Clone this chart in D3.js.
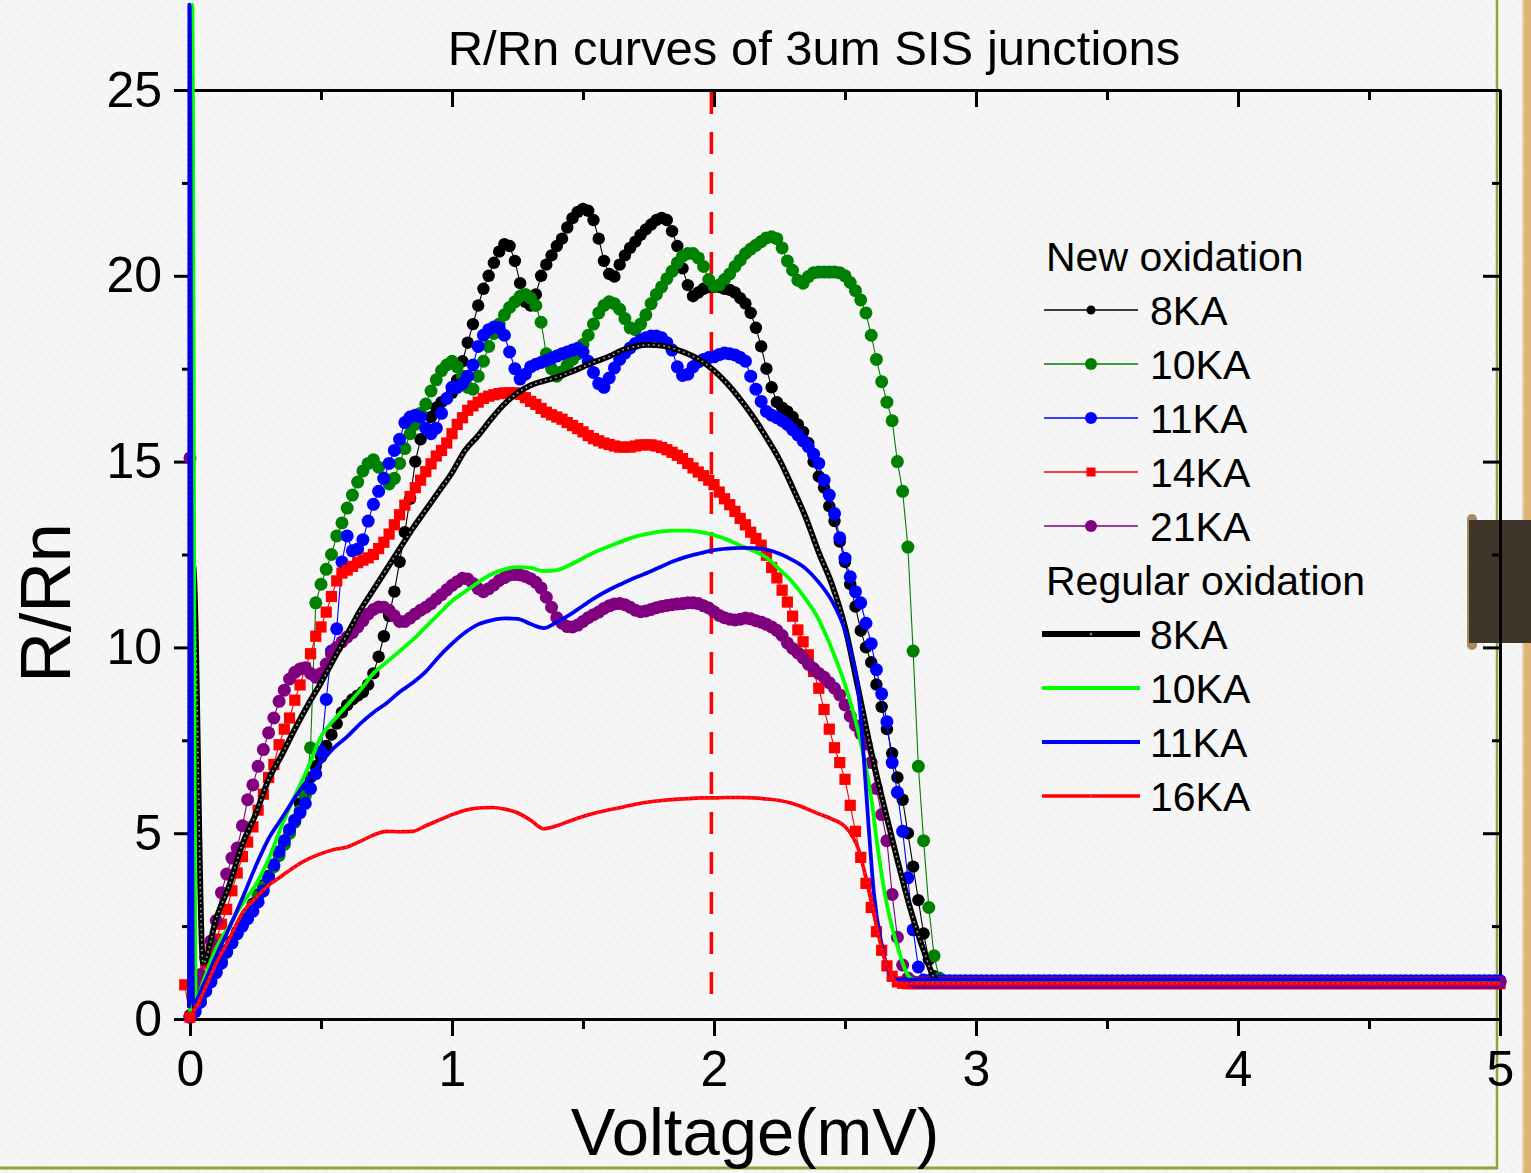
<!DOCTYPE html>
<html>
<head>
<meta charset="utf-8">
<script src="https://cdn.jsdelivr.net/npm/d3@7"></script>
<style>
  body { margin: 0; background: #f5f5f5; }
  svg { display: block; }
  text { font-family: "Liberation Sans", Arial, sans-serif; fill: #000; }
</style>
</head>
<body>
<svg id="chart" width="1531" height="1173"></svg>
<script>
// ---------------- data ----------------
// New-oxidation junctions: R/Rn sampled every 0.02 mV (rows of ten samples, row start voltage in comment)
const stepV = 0.02;

const new8KA = [
  /*0.00*/ 0.1, 0.35, 0.6, 0.85, 1.1, 1.35, 1.6, 1.85, 2.1, 2.35,
  /*0.20*/ 2.6, 2.85, 3.1, 3.35, 3.6, 3.85, 4.1, 4.4, 4.7, 5.0,
  /*0.40*/ 5.35, 5.8, 6.2, 6.5, 6.8, 7.05, 7.35, 7.65, 7.95, 8.25,
  /*0.60*/ 8.45, 8.6, 8.7, 8.8, 9.0, 9.3, 9.75, 10.3, 10.85, 11.5,
  /*0.80*/ 12.3, 13.1, 14.0, 15.0, 15.6, 15.9, 16.2, 16.45, 16.6, 16.7,
  /*1.00*/ 16.85, 17.2, 17.7, 18.2, 18.7, 19.2, 19.65, 20.0, 20.35, 20.65,
  /*1.20*/ 20.85, 20.8, 20.4, 19.8, 19.3, 19.2, 19.5, 20.0, 20.3, 20.55,
  /*1.40*/ 20.8, 21.0, 21.3, 21.55, 21.72, 21.8, 21.75, 21.5, 21.0, 20.4,
  /*1.60*/ 20.05, 19.98, 20.3, 20.55, 20.75, 20.92, 21.1, 21.25, 21.38, 21.5,
  /*1.80*/ 21.56, 21.5, 21.2, 20.8, 20.2, 19.75, 19.45, 19.55, 19.65, 19.7,
  /*2.00*/ 19.7, 19.7, 19.65, 19.62, 19.55, 19.4, 19.25, 19.0, 18.6, 18.1,
  /*2.20*/ 17.5, 17.0, 16.6, 16.45, 16.35, 16.2, 16.0, 15.8, 15.5, 15.0,
  /*2.40*/ 14.6, 14.3, 13.8, 13.4, 12.85, 12.3, 11.7, 11.1, 10.45, 10.0,
  /*2.60*/ 9.6, 9.0, 8.4, 7.8, 7.15, 6.5, 5.9, 5.0, 4.1, 3.2,
  /*2.80*/ 2.3, 1.6, 1.15, 1.02, 1.0, 1.0, 1.0, 1.0, 1.0, 1.0,
  /*3.00*/ 1.0, 1.0, 1.0, 1.0, 1.0, 1.0, 1.0, 1.0, 1.0, 1.0,
  /*3.20*/ 1.0, 1.0, 1.0, 1.0, 1.0, 1.0, 1.0, 1.0, 1.0, 1.0,
  /*3.40*/ 1.0, 1.0, 1.0, 1.0, 1.0, 1.0, 1.0, 1.0, 1.0, 1.0,
  /*3.60*/ 1.0, 1.0, 1.0, 1.0, 1.0, 1.0, 1.0, 1.0, 1.0, 1.0,
  /*3.80*/ 1.0, 1.0, 1.0, 1.0, 1.0, 1.0, 1.0, 1.0, 1.0, 1.0,
  /*4.00*/ 1.0, 1.0, 1.0, 1.0, 1.0, 1.0, 1.0, 1.0, 1.0, 1.0,
  /*4.20*/ 1.0, 1.0, 1.0, 1.0, 1.0, 1.0, 1.0, 1.0, 1.0, 1.0,
  /*4.40*/ 1.0, 1.0, 1.0, 1.0, 1.0, 1.0, 1.0, 1.0, 1.0, 1.0,
  /*4.60*/ 1.0, 1.0, 1.0, 1.0, 1.0, 1.0, 1.0, 1.0, 1.0, 1.0,
  /*4.80*/ 1.0, 1.0, 1.0, 1.0, 1.0, 1.0, 1.0, 1.0, 1.0, 1.0,
  /*5.00*/ 1.0
];

const new10KA = [
  /*0.00*/ 0.05, 0.3, 0.55, 0.8, 1.05, 1.3, 1.55, 1.8, 2.05, 2.3,
  /*0.20*/ 2.55, 2.8, 3.05, 3.3, 3.55, 3.8, 4.1, 4.4, 4.7, 5.0,
  /*0.40*/ 5.3, 5.6, 6.0, 7.3, 11.2, 11.7, 12.1, 12.5, 13.0, 13.35,
  /*0.60*/ 13.75, 14.1, 14.45, 14.75, 14.95, 15.05, 14.85, 14.55, 14.4, 14.55,
  /*0.80*/ 14.95, 15.35, 15.75, 16.0, 16.3, 16.55, 16.9, 17.2, 17.45, 17.6,
  /*1.00*/ 17.7, 17.55, 17.3, 17.0, 16.95, 17.3, 17.7, 18.1, 18.45, 18.7,
  /*1.20*/ 18.95, 19.15, 19.3, 19.45, 19.5, 19.4, 19.2, 18.75, 17.9, 17.5,
  /*1.40*/ 17.3, 17.42, 17.6, 17.75, 17.9, 18.15, 18.4, 18.7, 19.0, 19.2,
  /*1.60*/ 19.3, 19.25, 19.1, 18.85, 18.6, 18.55, 18.7, 18.95, 19.25, 19.5,
  /*1.80*/ 19.7, 19.92, 20.12, 20.35, 20.53, 20.6, 20.6, 20.48, 20.25, 19.9,
  /*2.00*/ 19.72, 19.75, 19.9, 20.05, 20.25, 20.42, 20.6, 20.72, 20.82, 20.92,
  /*2.20*/ 21.02, 21.05, 21.0, 20.75, 20.4, 20.15, 19.88, 19.8, 19.98, 20.08,
  /*2.40*/ 20.1, 20.1, 20.1, 20.1, 20.08, 20.0, 19.82, 19.6, 19.35, 19.0,
  /*2.60*/ 18.4, 17.75, 17.15, 16.6, 16.1, 15.0, 14.2, 12.7, 9.9, 6.8,
  /*2.80*/ 4.8, 3.0, 1.7, 1.1, 1.0, 1.0, 1.0, 1.0, 1.0, 1.0,
  /*3.00*/ 1.0, 1.0, 1.0, 1.0, 1.0, 1.0, 1.0, 1.0, 1.0, 1.0,
  /*3.20*/ 1.0, 1.0, 1.0, 1.0, 1.0, 1.0, 1.0, 1.0, 1.0, 1.0,
  /*3.40*/ 1.0, 1.0, 1.0, 1.0, 1.0, 1.0, 1.0, 1.0, 1.0, 1.0,
  /*3.60*/ 1.0, 1.0, 1.0, 1.0, 1.0, 1.0, 1.0, 1.0, 1.0, 1.0,
  /*3.80*/ 1.0, 1.0, 1.0, 1.0, 1.0, 1.0, 1.0, 1.0, 1.0, 1.0,
  /*4.00*/ 1.0, 1.0, 1.0, 1.0, 1.0, 1.0, 1.0, 1.0, 1.0, 1.0,
  /*4.20*/ 1.0, 1.0, 1.0, 1.0, 1.0, 1.0, 1.0, 1.0, 1.0, 1.0,
  /*4.40*/ 1.0, 1.0, 1.0, 1.0, 1.0, 1.0, 1.0, 1.0, 1.0, 1.0,
  /*4.60*/ 1.0, 1.0, 1.0, 1.0, 1.0, 1.0, 1.0, 1.0, 1.0, 1.0,
  /*4.80*/ 1.0, 1.0, 1.0, 1.0, 1.0, 1.0, 1.0, 1.0, 1.0, 1.0,
  /*5.00*/ 1.0
];

const new11KA = [
  /*0.00*/ 0.05, 0.2, 0.45, 0.75, 1.0, 1.25, 1.5, 1.8, 2.05, 2.3,
  /*0.20*/ 2.5, 2.7, 2.9, 3.15, 3.45, 3.8, 4.15, 4.5, 4.8, 5.1,
  /*0.40*/ 5.35, 5.55, 5.8, 6.2, 6.6, 7.2, 8.6, 9.9, 10.5, 12.3,
  /*0.60*/ 13.0, 12.6, 12.65, 12.9, 13.4, 13.85, 14.2, 14.55, 14.95, 15.3,
  /*0.80*/ 15.6, 16.05, 16.2, 16.25, 16.2, 15.9, 15.75, 15.9, 16.3, 16.7,
  /*1.00*/ 17.0, 17.0, 17.1, 17.3, 17.6, 18.1, 18.4, 18.55, 18.62, 18.6,
  /*1.20*/ 18.4, 17.95, 17.5, 17.22, 17.35, 17.55, 17.62, 17.67, 17.72, 17.78,
  /*1.40*/ 17.84, 17.9, 17.95, 18.0, 18.05, 17.95, 17.7, 17.4, 17.1, 17.0,
  /*1.60*/ 17.25, 17.52, 17.75, 17.92, 18.06, 18.18, 18.27, 18.33, 18.38, 18.38,
  /*1.80*/ 18.33, 18.2, 18.0, 17.55, 17.32, 17.35, 17.55, 17.68, 17.75, 17.8,
  /*2.00*/ 17.82, 17.88, 17.92, 17.9, 17.87, 17.8, 17.7, 17.3, 16.95, 16.62,
  /*2.20*/ 16.35, 16.25, 16.18, 16.1, 16.0, 15.86, 15.72, 15.56, 15.4, 15.2,
  /*2.40*/ 14.95, 14.5, 14.1, 13.6, 12.95, 12.4, 11.9, 11.5, 11.2, 10.65,
  /*2.60*/ 10.1, 9.4, 8.75, 8.0, 6.9, 6.1, 5.05, 3.8, 2.4, 1.4,
  /*2.80*/ 1.05, 1.03, 1.03, 1.03, 1.03, 1.03, 1.03, 1.03, 1.03, 1.03,
  /*3.00*/ 1.03, 1.03, 1.03, 1.03, 1.03, 1.03, 1.03, 1.03, 1.03, 1.03,
  /*3.20*/ 1.03, 1.03, 1.03, 1.03, 1.03, 1.03, 1.03, 1.03, 1.03, 1.03,
  /*3.40*/ 1.03, 1.03, 1.03, 1.03, 1.03, 1.03, 1.03, 1.03, 1.03, 1.03,
  /*3.60*/ 1.03, 1.03, 1.03, 1.03, 1.03, 1.03, 1.03, 1.03, 1.03, 1.03,
  /*3.80*/ 1.03, 1.03, 1.03, 1.03, 1.03, 1.03, 1.03, 1.03, 1.03, 1.03,
  /*4.00*/ 1.03, 1.03, 1.03, 1.03, 1.03, 1.03, 1.03, 1.03, 1.03, 1.03,
  /*4.20*/ 1.03, 1.03, 1.03, 1.03, 1.03, 1.03, 1.03, 1.03, 1.03, 1.03,
  /*4.40*/ 1.03, 1.03, 1.03, 1.03, 1.03, 1.03, 1.03, 1.03, 1.03, 1.03,
  /*4.60*/ 1.03, 1.03, 1.03, 1.03, 1.03, 1.03, 1.03, 1.03, 1.03, 1.03,
  /*4.80*/ 1.03, 1.03, 1.03, 1.03, 1.03, 1.03, 1.03, 1.03, 1.03, 1.03,
  /*5.00*/ 1.03
];

// 14KA sweep starts one step below zero
const new14KAStartV = -0.02;
const new14KA = [
  /*-0.02*/ 0.92,
  /*0.00*/ 0.05, 0.5, 1.1, 1.5, 1.85, 2.15, 2.55, 2.95, 3.45, 3.93,
  /*0.20*/ 4.37, 4.76, 5.17, 5.62, 6.05, 6.5, 6.85, 7.38, 7.8, 8.1,
  /*0.40*/ 8.58, 8.99, 9.45, 9.83, 10.3, 10.55, 10.95, 11.37, 11.79, 12.0,
  /*0.60*/ 12.08, 12.18, 12.28, 12.35, 12.41, 12.5, 12.66, 12.83, 13.05, 13.3,
  /*0.80*/ 13.57, 13.83, 14.06, 14.3, 14.5, 14.73, 14.94, 15.15, 15.3, 15.5,
  /*1.00*/ 15.75, 16.0, 16.18, 16.38, 16.5, 16.6, 16.7, 16.76, 16.8, 16.83,
  /*1.20*/ 16.85, 16.85, 16.85, 16.81, 16.72, 16.62, 16.54, 16.43, 16.33, 16.26,
  /*1.40*/ 16.2, 16.14, 16.05, 15.97, 15.89, 15.8, 15.7, 15.62, 15.56, 15.5,
  /*1.60*/ 15.46, 15.42, 15.39, 15.39, 15.39, 15.42, 15.45, 15.45, 15.45, 15.42,
  /*1.80*/ 15.38, 15.32, 15.25, 15.17, 15.08, 14.95, 14.83, 14.72, 14.62, 14.5,
  /*2.00*/ 14.38, 14.18, 14.0, 13.84, 13.66, 13.47, 13.3, 13.1, 12.93, 12.75,
  /*2.20*/ 12.48, 12.15, 11.87, 11.54, 11.22, 10.84, 10.47, 10.15, 9.8, 9.35,
  /*2.40*/ 8.9, 8.33, 7.8, 7.3, 6.9, 6.45, 5.75, 5.05, 4.35, 3.65,
  /*2.60*/ 3.0, 2.35, 1.85, 1.43, 1.15, 1.0, 0.96, 0.95, 0.95, 0.95,
  /*2.80*/ 0.95, 0.95, 0.95, 0.95, 0.95, 0.95, 0.95, 0.95, 0.95, 0.95,
  /*3.00*/ 0.95, 0.95, 0.95, 0.95, 0.95, 0.95, 0.95, 0.95, 0.95, 0.95,
  /*3.20*/ 0.95, 0.95, 0.95, 0.95, 0.95, 0.95, 0.95, 0.95, 0.95, 0.95,
  /*3.40*/ 0.95, 0.95, 0.95, 0.95, 0.95, 0.95, 0.95, 0.95, 0.95, 0.95,
  /*3.60*/ 0.95, 0.95, 0.95, 0.95, 0.95, 0.95, 0.95, 0.95, 0.95, 0.95,
  /*3.80*/ 0.95, 0.95, 0.95, 0.95, 0.95, 0.95, 0.95, 0.95, 0.95, 0.95,
  /*4.00*/ 0.95, 0.95, 0.95, 0.95, 0.95, 0.95, 0.95, 0.95, 0.95, 0.95,
  /*4.20*/ 0.95, 0.95, 0.95, 0.95, 0.95, 0.95, 0.95, 0.95, 0.95, 0.95,
  /*4.40*/ 0.95, 0.95, 0.95, 0.95, 0.95, 0.95, 0.95, 0.95, 0.95, 0.95,
  /*4.60*/ 0.95, 0.95, 0.95, 0.95, 0.95, 0.95, 0.95, 0.95, 0.95, 0.95,
  /*4.80*/ 0.95, 0.95, 0.95, 0.95, 0.95, 0.95, 0.95, 0.95, 0.95, 0.95,
  /*5.00*/ 0.95
];

const new21KA = [
  /*0.00*/ 15.1, 0.9, 1.2, 1.65, 2.1, 2.65, 3.4, 3.9, 4.33, 4.6,
  /*0.20*/ 5.2, 5.9, 6.3, 6.8, 7.25, 7.7, 8.1, 8.55, 8.85, 9.15,
  /*0.40*/ 9.33, 9.42, 9.45, 9.3, 9.2, 9.3, 9.55, 9.82, 10.0, 10.15,
  /*0.60*/ 10.28, 10.4, 10.55, 10.72, 10.9, 11.02, 11.09, 11.08, 11.0, 10.85,
  /*0.80*/ 10.7, 10.7, 10.79, 10.9, 11.0, 11.08, 11.18, 11.3, 11.42, 11.55,
  /*1.00*/ 11.67, 11.77, 11.86, 11.84, 11.72, 11.58, 11.5, 11.58, 11.68, 11.8,
  /*1.20*/ 11.88, 11.95, 11.96, 11.95, 11.91, 11.85, 11.75, 11.6, 11.35, 11.08,
  /*1.40*/ 10.8, 10.65, 10.56, 10.55, 10.6, 10.7, 10.8, 10.88, 10.95, 11.05,
  /*1.60*/ 11.12, 11.17, 11.18, 11.15, 11.08, 11.0, 10.96, 10.98, 11.02, 11.07,
  /*1.80*/ 11.1, 11.13, 11.15, 11.17, 11.18, 11.2, 11.2, 11.18, 11.12, 11.06,
  /*2.00*/ 10.96, 10.86, 10.8, 10.76, 10.74, 10.76, 10.79, 10.77, 10.72, 10.68,
  /*2.20*/ 10.62, 10.55, 10.46, 10.32, 10.12, 9.97, 9.85, 9.72, 9.55, 9.43,
  /*2.40*/ 9.3, 9.2, 9.05, 8.9, 8.72, 8.45, 8.15, 7.9, 7.68, 7.4,
  /*2.60*/ 6.9, 6.2, 5.5, 4.8, 3.35, 2.2, 1.45, 1.1, 1.0, 0.98,
  /*2.80*/ 0.98, 0.98, 0.98, 0.98, 0.98, 0.98, 0.98, 0.98, 0.98, 0.98,
  /*3.00*/ 0.98, 0.98, 0.98, 0.98, 0.98, 0.98, 0.98, 0.98, 0.98, 0.98,
  /*3.20*/ 0.98, 0.98, 0.98, 0.98, 0.98, 0.98, 0.98, 0.98, 0.98, 0.98,
  /*3.40*/ 0.98, 0.98, 0.98, 0.98, 0.98, 0.98, 0.98, 0.98, 0.98, 0.98,
  /*3.60*/ 0.98, 0.98, 0.98, 0.98, 0.98, 0.98, 0.98, 0.98, 0.98, 0.98,
  /*3.80*/ 0.98, 0.98, 0.98, 0.98, 0.98, 0.98, 0.98, 0.98, 0.98, 0.98,
  /*4.00*/ 0.98, 0.98, 0.98, 0.98, 0.98, 0.98, 0.98, 0.98, 0.98, 0.98,
  /*4.20*/ 0.98, 0.98, 0.98, 0.98, 0.98, 0.98, 0.98, 0.98, 0.98, 0.98,
  /*4.40*/ 0.98, 0.98, 0.98, 0.98, 0.98, 0.98, 0.98, 0.98, 0.98, 0.98,
  /*4.60*/ 0.98, 0.98, 0.98, 0.98, 0.98, 0.98, 0.98, 0.98, 0.98, 0.98,
  /*4.80*/ 0.98, 0.98, 0.98, 0.98, 0.98, 0.98, 0.98, 0.98, 0.98, 0.98,
  /*5.00*/ 0.98
];

// Regular-oxidation junctions: [voltage (mV), R/Rn]
const reg8KA = [
  [0, 0.3], [0.012, 12.2], [0.05, 1.5], [0.1, 2.7], [0.15, 3.6], [0.2, 4.7], [0.25, 5.5],
  [0.3, 6.45], [0.35, 7.1], [0.4, 7.8], [0.45, 8.45], [0.5, 9.05], [0.55, 9.7], [0.6, 10.35],
  [0.65, 11.0], [0.7, 11.55], [0.75, 12.1], [0.8, 12.65], [0.85, 13.2], [0.9, 13.7], [0.95, 14.2],
  [1.0, 14.7], [1.05, 15.3], [1.1, 15.7], [1.15, 16.15], [1.2, 16.55], [1.25, 16.85], [1.3, 17.05],
  [1.35, 17.17], [1.4, 17.27], [1.45, 17.4], [1.5, 17.55], [1.55, 17.7], [1.6, 17.83], [1.65, 18.0],
  [1.7, 18.1], [1.75, 18.14], [1.8, 18.12], [1.85, 18.03], [1.9, 17.9], [1.95, 17.72], [2.0, 17.45],
  [2.05, 17.1], [2.1, 16.68], [2.15, 16.2], [2.2, 15.65], [2.25, 15.05], [2.3, 14.3], [2.35, 13.5],
  [2.4, 12.55], [2.45, 11.7], [2.5, 10.55], [2.55, 8.9], [2.6, 7.2], [2.65, 5.7], [2.7, 4.28],
  [2.75, 2.95], [2.8, 1.85], [2.85, 1.05], [2.9, 1.0], [3.5, 1.0], [4.0, 1.0], [4.5, 1.0], [5.0, 1.0]
];

const reg10KA = [
  [0, 0.2], [0.0065, 27.3], [0.0085, 27.3], [0.022, 0.5], [0.05, 1.0], [0.1, 1.9], [0.15, 2.5], [0.2, 3.1],
  [0.25, 3.6], [0.3, 4.3], [0.35, 5.2], [0.4, 6.0], [0.45, 6.75], [0.5, 7.6], [0.55, 8.05],
  [0.6, 8.45], [0.65, 8.85], [0.7, 9.3], [0.75, 9.6], [0.8, 9.9], [0.85, 10.2], [0.9, 10.55],
  [0.95, 10.9], [1.0, 11.25], [1.05, 11.5], [1.1, 11.75], [1.15, 11.97], [1.2, 12.1], [1.25, 12.16],
  [1.3, 12.14], [1.35, 12.05], [1.4, 12.08], [1.45, 12.22], [1.5, 12.4], [1.55, 12.58], [1.6, 12.72],
  [1.65, 12.86], [1.7, 12.98], [1.75, 13.06], [1.8, 13.12], [1.85, 13.14], [1.9, 13.14], [1.95, 13.1],
  [2.0, 13.02], [2.05, 12.9], [2.1, 12.74], [2.15, 12.6], [2.2, 12.42], [2.25, 12.1], [2.3, 11.75],
  [2.35, 11.3], [2.4, 10.75], [2.45, 9.95], [2.5, 9.0], [2.55, 7.75], [2.6, 5.95], [2.625, 4.6],
  [2.65, 3.45], [2.7, 1.95], [2.75, 1.1], [2.8, 1.0], [3.5, 1.0], [4.0, 1.0], [4.5, 1.0], [5.0, 1.0]
];

const reg11KA = [
  [-0.003, 0.3], [-0.0025, 27.3], [-0.0015, 27.3], [0.012, 0.4], [0.05, 0.9], [0.1, 1.7], [0.15, 2.45], [0.2, 3.25],
  [0.25, 4.1], [0.3, 4.85], [0.35, 5.4], [0.4, 5.95], [0.45, 6.45], [0.5, 6.9], [0.55, 7.3],
  [0.6, 7.6], [0.65, 7.95], [0.7, 8.25], [0.75, 8.5], [0.8, 8.8], [0.85, 9.05], [0.9, 9.35],
  [0.95, 9.75], [1.0, 10.1], [1.05, 10.4], [1.1, 10.62], [1.15, 10.73], [1.2, 10.78], [1.25, 10.77],
  [1.3, 10.63], [1.35, 10.52], [1.4, 10.68], [1.45, 10.88], [1.5, 11.12], [1.55, 11.35], [1.6, 11.55],
  [1.65, 11.72], [1.7, 11.88], [1.75, 12.02], [1.8, 12.18], [1.85, 12.33], [1.9, 12.45], [1.95, 12.54],
  [2.0, 12.62], [2.05, 12.66], [2.1, 12.68], [2.15, 12.67], [2.2, 12.63], [2.25, 12.52], [2.3, 12.35],
  [2.35, 12.12], [2.4, 11.75], [2.45, 11.25], [2.5, 10.45], [2.525, 9.8], [2.55, 8.9], [2.57, 7.2],
  [2.59, 5.2], [2.61, 3.4], [2.64, 2.0], [2.67, 1.25], [2.7, 1.06], [3.5, 1.06], [4.0, 1.06], [4.5, 1.06], [5.0, 1.06]
];

const reg16KA = [
  [0, 0], [0.05, 0.7], [0.1, 1.5], [0.15, 2.15], [0.2, 2.85], [0.25, 3.25], [0.3, 3.6],
  [0.35, 3.85], [0.4, 4.1], [0.45, 4.3], [0.5, 4.45], [0.55, 4.56], [0.6, 4.63], [0.65, 4.78],
  [0.7, 4.95], [0.75, 5.05], [0.8, 5.04], [0.85, 5.05], [0.9, 5.2], [0.95, 5.35], [1.0, 5.5],
  [1.05, 5.62], [1.1, 5.68], [1.15, 5.69], [1.2, 5.65], [1.25, 5.55], [1.3, 5.35], [1.35, 5.12],
  [1.4, 5.2], [1.45, 5.33], [1.5, 5.45], [1.55, 5.55], [1.6, 5.63], [1.65, 5.7], [1.7, 5.78],
  [1.75, 5.84], [1.8, 5.88], [1.85, 5.91], [1.9, 5.93], [1.95, 5.95], [2.0, 5.95], [2.05, 5.96],
  [2.1, 5.96], [2.15, 5.95], [2.2, 5.92], [2.25, 5.88], [2.3, 5.8], [2.35, 5.67], [2.4, 5.52],
  [2.45, 5.38], [2.5, 5.18], [2.53, 4.9], [2.55, 4.6], [2.575, 3.95], [2.6, 3.25], [2.625, 2.35],
  [2.65, 1.65], [2.68, 1.15], [2.7, 0.97], [2.75, 0.96], [3.5, 0.96], [4.0, 0.96], [4.5, 0.96], [5.0, 0.96]
];

// Gap-voltage marker and axis ticks
const gapMarkV = 1.99;
const xTickValues = [0, 1, 2, 3, 4, 5];
const xMinorValues = [0.5, 1.5, 2.5, 3.5, 4.5];
const yTickValues = [0, 5, 10, 15, 20, 25];
const yMinorValues = [2.5, 7.5, 12.5, 17.5, 22.5];

const newNames = ["8KA", "10KA", "11KA", "14KA", "21KA"];
const regNames = ["8KA", "10KA", "11KA", "16KA"];

// ---------------- layout & styling ----------------
const W = 1531, H = 1173;
const margin = { left: 190, right: 31, top: 90, bottom: 154 };

const newSeries = [
  { name: newNames[0], values: new8KA, startV: 0, color: "#000000", shape: "circle", r: 6.2, lr: 4.5 },
  { name: newNames[1], values: new10KA, startV: 0, color: "#008000", shape: "circle", r: 6.5, lr: 6 },
  { name: newNames[2], values: new11KA, startV: 0, color: "#0000ff", shape: "circle", r: 6.5, lr: 6 },
  { name: newNames[3], values: new14KA, startV: new14KAStartV, color: "#ff0000", shape: "square", r: 5.6, lr: 4.5 },
  { name: newNames[4], values: new21KA, startV: 0, color: "#800080", shape: "circle", r: 6.5, lr: 6 }
];
const regSeries = [
  { name: regNames[0], points: reg8KA, color: "#000000", width: 5.8, dot: "#9a9a9a", dotW: 2 },
  { name: regNames[1], points: reg10KA, color: "#00ff00", width: 3.8, dot: null },
  { name: regNames[2], points: reg11KA, color: "#0000ff", width: 3.8, dot: "#000060", dotW: 1.4 },
  { name: regNames[3], points: reg16KA, color: "#ff0000", width: 3.6, dot: "#ff2a8c", dotW: 1.6 }
];

const svg = d3.select("#chart");

// paper background with faint diagonal grain
const defs = svg.append("defs");
const pat = defs.append("pattern").attr("id", "paper").attr("patternUnits", "userSpaceOnUse")
  .attr("width", 7).attr("height", 7).attr("patternTransform", "rotate(-40)");
pat.append("rect").attr("width", 7).attr("height", 7).attr("fill", "#f6f6f6");
pat.append("line").attr("x1", 0).attr("y1", 0).attr("x2", 0).attr("y2", 7)
  .attr("stroke", "#efefef").attr("stroke-width", 2);
svg.append("rect").attr("width", W).attr("height", H).attr("fill", "url(#paper)");

// page frame decorations
svg.append("rect").attr("x", 1523).attr("y", 0).attr("width", 8).attr("height", H).attr("fill", "#dcb577");
svg.append("rect").attr("x", 1522).attr("y", 0).attr("width", 2).attr("height", H).attr("fill", "#e8d2a8");
svg.append("line").attr("x1", 1497).attr("x2", 1497).attr("y1", 0).attr("y2", 1169)
  .attr("stroke", "#8ea43c").attr("stroke-width", 2.5);
svg.append("line").attr("x1", 0).attr("x2", 1498).attr("y1", 1168).attr("y2", 1168)
  .attr("stroke", "#8ea43c").attr("stroke-width", 3);
// binder clip on the right edge
svg.append("rect").attr("x", 1467).attr("y", 514).attr("width", 10).attr("height", 136).attr("rx", 5)
  .attr("fill", "#a98a5c");
svg.append("rect").attr("x", 1469).attr("y", 520).attr("width", 62).attr("height", 123)
  .attr("fill", "#3f352b");

// scales
const x = d3.scaleLinear().domain([0, 5]).range([margin.left, W - margin.right]);
const y = d3.scaleLinear().domain([0, 25]).range([H - margin.bottom, margin.top]);

// axes
const axisStyle = g => {
  g.selectAll("path.domain").attr("stroke", "#000").attr("stroke-width", 3);
  g.selectAll(".tick line").attr("stroke", "#000").attr("stroke-width", 3);
  g.selectAll(".tick text").style("font-size", "50px").attr("fill", "#000")
    .style("font-family", '"Liberation Sans", Arial, sans-serif');
};
const gAxes = svg.append("g");
// bottom
gAxes.append("g").attr("transform", `translate(0,${y(0)})`)
  .call(d3.axisBottom(x).tickValues(xMinorValues).tickSize(10).tickSizeOuter(0).tickFormat(""))
  .call(axisStyle);
gAxes.append("g").attr("transform", `translate(0,${y(0)})`)
  .call(d3.axisBottom(x).tickValues(xTickValues).tickSize(17).tickSizeOuter(0).tickPadding(14).tickFormat(d3.format("d")))
  .call(axisStyle);
// top (ticks inward)
gAxes.append("g").attr("transform", `translate(0,${y(25)})`)
  .call(d3.axisBottom(x).tickValues(xMinorValues).tickSize(10).tickSizeOuter(0).tickFormat(""))
  .call(axisStyle);
gAxes.append("g").attr("transform", `translate(0,${y(25)})`)
  .call(d3.axisBottom(x).tickValues(xTickValues).tickSize(17).tickSizeOuter(0).tickFormat(""))
  .call(axisStyle);
// left
gAxes.append("g").attr("transform", `translate(${x(0)},0)`)
  .call(d3.axisLeft(y).tickValues(yMinorValues).tickSize(8).tickSizeOuter(0).tickFormat(""))
  .call(axisStyle);
gAxes.append("g").attr("transform", `translate(${x(0)},0)`)
  .call(d3.axisLeft(y).tickValues(yTickValues).tickSize(16).tickSizeOuter(0).tickPadding(12).tickFormat(d3.format("d")))
  .call(axisStyle);
// right (ticks inward)
gAxes.append("g").attr("transform", `translate(${x(5)},0)`)
  .call(d3.axisLeft(y).tickValues(yMinorValues).tickSize(8).tickSizeOuter(0).tickFormat(""))
  .call(axisStyle);
gAxes.append("g").attr("transform", `translate(${x(5)},0)`)
  .call(d3.axisLeft(y).tickValues(yTickValues).tickSize(17).tickSizeOuter(0).tickFormat(""))
  .call(axisStyle);

// gap-voltage dashed marker
svg.append("line")
  .attr("x1", x(gapMarkV)).attr("x2", x(gapMarkV))
  .attr("y1", y(25) + 2).attr("y2", y(0) - 16)
  .attr("stroke", "#ff0000").attr("stroke-width", 3.5).attr("stroke-dasharray", "22 18");

// data layer
const gData = svg.append("g");
const thin = d3.line().x(d => x(d[0])).y(d => y(d[1]));

newSeries.forEach(s => {
  const pts = s.values.map((r, i) => [s.startV + i * stepV, r]);
  const g = gData.append("g");
  g.append("path").datum(pts).attr("d", thin)
    .attr("fill", "none").attr("stroke", s.color).attr("stroke-width", 1.1);
  if (s.shape === "square") {
    g.selectAll("rect").data(pts).join("rect")
      .attr("x", d => x(d[0]) - s.r).attr("y", d => y(d[1]) - s.r)
      .attr("width", s.r * 2).attr("height", s.r * 2).attr("fill", s.color);
  } else {
    g.selectAll("circle").data(pts).join("circle")
      .attr("cx", d => x(d[0])).attr("cy", d => y(d[1])).attr("r", s.r).attr("fill", s.color);
  }
});

const smooth = d3.line().x(d => x(d[0])).y(d => y(d[1])).curve(d3.curveMonotoneX);
regSeries.forEach(s => {
  gData.append("path").datum(s.points).attr("d", smooth)
    .attr("fill", "none").attr("stroke", s.color).attr("stroke-width", s.width)
    .attr("stroke-linejoin", "round");
  if (s.dot) {
    gData.append("path").datum(s.points).attr("d", smooth)
      .attr("fill", "none").attr("stroke", s.dot).attr("stroke-width", s.dotW)
      .attr("stroke-linecap", "round").attr("stroke-dasharray", "0 5.2");
  }
});

// title and axis titles
svg.append("text").attr("x", 814).attr("y", 65).attr("text-anchor", "middle")
  .style("font-size", "49px").text("R/Rn curves of 3um SIS junctions");
svg.append("text").attr("transform", "translate(70,603) rotate(-90)").attr("text-anchor", "middle")
  .style("font-size", "70px").text("R/Rn");
svg.append("text").attr("x", 755).attr("y", 1155).attr("text-anchor", "middle")
  .style("font-size", "67px").text("Voltage(mV)");

// legend
const leg = svg.append("g");
const legFont = "41px";
leg.append("text").attr("x", 1046).attr("y", 271).style("font-size", legFont).text("New oxidation");
newSeries.forEach((s, i) => {
  const ry = 310 + i * 54;
  leg.append("line").attr("x1", 1044).attr("x2", 1138).attr("y1", ry).attr("y2", ry)
    .attr("stroke", s.color).attr("stroke-width", 1.3);
  if (s.shape === "square") {
    leg.append("rect").attr("x", 1091 - s.lr).attr("y", ry - s.lr)
      .attr("width", s.lr * 2).attr("height", s.lr * 2).attr("fill", s.color);
  } else {
    leg.append("circle").attr("cx", 1091).attr("cy", ry).attr("r", s.lr).attr("fill", s.color);
  }
  leg.append("text").attr("x", 1150).attr("y", ry + 15).style("font-size", legFont).text(s.name);
});
leg.append("text").attr("x", 1046).attr("y", 595).style("font-size", legFont).text("Regular oxidation");
regSeries.forEach((s, i) => {
  const ry = 634 + i * 54;
  leg.append("line").attr("x1", 1042).attr("x2", 1140).attr("y1", ry).attr("y2", ry)
    .attr("stroke", s.color).attr("stroke-width", s.width);
  if (s.dot) {
    leg.append("circle").attr("cx", 1091).attr("cy", ry).attr("r", s.dotW * 0.6).attr("fill", s.dot);
  }
  leg.append("text").attr("x", 1150).attr("y", ry + 15).style("font-size", legFont).text(s.name);
});
</script>
</body>
</html>
